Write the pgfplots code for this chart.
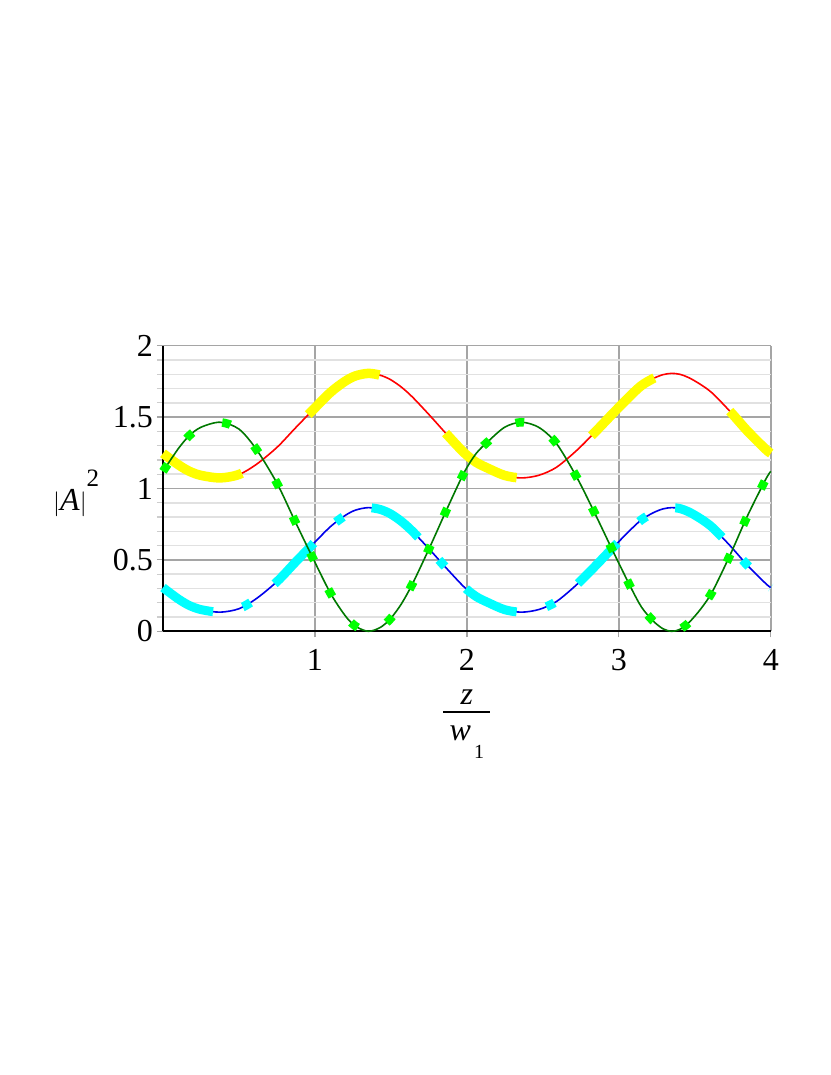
\documentclass[border=0pt]{standalone}
\usepackage{fontspec}
\setmainfont{Liberation Serif}
\usepackage{pgfplots}
\pgfplotsset{compat=1.18}
\usepackage{pgfplotstable}

\definecolor{cRed}{RGB}{255,0,0}
\definecolor{cBlue}{RGB}{0,0,235}
\definecolor{cGreen}{RGB}{0,120,0}
\definecolor{cYellow}{RGB}{255,255,0}
\definecolor{cCyan}{RGB}{0,255,255}
\definecolor{cLime}{RGB}{0,255,0}
\definecolor{gMajor}{RGB}{165,165,165}
\definecolor{gMinor}{RGB}{225,225,225}

\pgfplotstableread{
z g b r
0.000 1.120 0.306 1.246
0.100 1.278 0.227 1.167
0.173 1.370 0.181 1.121
0.250 1.429 0.152 1.092
0.375 1.464 0.134 1.074
0.500 1.416 0.158 1.098
0.616 1.272 0.230 1.170
0.752 1.033 0.350 1.290
0.868 0.773 0.480 1.420
0.982 0.522 0.605 1.545
1.103 0.265 0.734 1.674
1.200 0.108 0.812 1.752
1.268 0.035 0.849 1.789
1.351 0.000 0.866 1.806
1.430 0.027 0.853 1.793
1.498 0.089 0.822 1.762
1.570 0.194 0.769 1.709
1.643 0.335 0.699 1.639
1.757 0.592 0.570 1.510
1.866 0.850 0.441 1.381
1.980 1.108 0.312 1.252
2.060 1.244 0.244 1.184
2.140 1.330 0.201 1.141
2.250 1.430 0.151 1.091
2.360 1.464 0.134 1.074
2.475 1.427 0.153 1.093
2.590 1.314 0.209 1.149
2.726 1.073 0.330 1.270
2.847 0.815 0.459 1.399
2.963 0.557 0.588 1.528
3.077 0.311 0.711 1.651
3.150 0.168 0.782 1.722
3.226 0.072 0.830 1.770
3.290 0.018 0.857 1.797
3.347 0.000 0.866 1.806
3.400 0.013 0.860 1.800
3.461 0.061 0.836 1.776
3.540 0.158 0.787 1.727
3.617 0.281 0.726 1.666
3.735 0.541 0.596 1.536
3.844 0.803 0.465 1.405
3.965 1.061 0.336 1.276
4.000 1.120 0.306 1.246
}\data

\begin{document}
\begin{tikzpicture}[x=1pt,y=1pt]
\path[use as bounding box] (-163,-443.7) rectangle (667,631.3);
\begin{axis}[
  scale only axis, width=607.8pt, height=285.6pt,
  xmin=0, xmax=4, ymin=0, ymax=2,
  xtick={1,2,3,4}, ytick={0,0.5,1,1.5,2},
  minor y tick num=4,
  xmajorgrids, ymajorgrids, yminorgrids,
  major grid style={color=gMajor, line width=1.4pt},
  minor grid style={color=gMinor, line width=1.5pt},
  axis x line=bottom, axis y line=left,
  axis line style={black, line width=1.6pt, -},
  tick align=outside,
  major tick length=6pt, minor tick length=6pt,
  every tick/.style={color=gMajor, line width=1.2pt},
  minor tick style={color=gMinor!80!gray, line width=1.2pt},
  /pgf/number format/assume math mode=true,
  tick label style={font=\fontsize{32}{36}\selectfont},
  xticklabel style={inner sep=0pt, anchor=north, yshift=-12pt},
  yticklabel style={inner sep=0pt, anchor=east, xshift=-4pt},
  ylabel={$|$\textit{A}$|$\raisebox{0.72em}{\fontsize{25}{25}\selectfont 2}},
  ylabel style={rotate=-90, inner sep=0pt, anchor=base west,
    at={(axis description cs:-0.181,0.4247)}, font=\fontsize{32}{36}\selectfont},
  xlabel={\vbox{\offinterlineskip\hsize=47pt
     \hbox to 47pt{\hss\textit{z}\hss}
     \kern6pt
     \hrule height 2pt
     \kern13pt
     \hbox to 47pt{\hss\textit{w}\kern3pt\raisebox{-18pt}{\fontsize{20}{20}\selectfont 1}\hss}}},
  xlabel style={inner sep=0pt, anchor=north, at={(axis description cs:0.5,0)},
    yshift=-58.7pt, font=\fontsize{32}{36}\selectfont},
  clip=false,
]
\addplot[cRed, line width=1.6pt, smooth] table[x=z, y=r] {\data};
\addplot[cYellow, line width=9.5pt, smooth, dash pattern=on 86pt off 89pt] table[x=z, y=r] {\data};
\addplot[cBlue, line width=1.6pt, smooth] table[x=z, y=b] {\data};
\addplot[cCyan, line width=9pt, smooth, dash pattern=on 56.5pt off 30.5pt on 9pt off 30.5pt] table[x=z, y=b] {\data};
\addplot[cGreen, line width=1.6pt, smooth] table[x=z, y=g] {\data};
\addplot[cLime, line width=8.5pt, smooth, dash pattern=on 8.5pt off 31.95pt] table[x=z, y=g] {\data};
\end{axis}
\end{tikzpicture}
\end{document}
